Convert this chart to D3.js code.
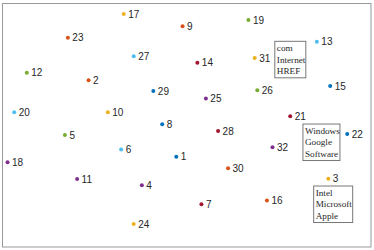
<!DOCTYPE html>
<html>
<head>
<meta charset="utf-8">
<script src="https://cdn.jsdelivr.net/npm/d3@7"></script>
<style>
  body { margin: 0; background: #fff; }
</style>
</head>
<body>
<div id="chart"></div>
<script>
// point ids and positions (data units, 0-100)
var ids = d3.range(1, 33);
var xs = [47.1, 23.4, 88.2, 37.8, 17.0, 32.2, 53.9, 43.3, 48.8, 28.6,
          20.3, 6.7, 85.1, 52.8, 88.7, 71.6, 32.9, 1.5, 66.6, 3.3,
          77.9, 93.3, 17.8, 35.6, 55.1, 69.0, 35.6, 58.4, 40.9, 61.1,
          68.3, 73.1];
var ys = [37.0, 68.3, 28.0, 25.3, 45.9, 40.0, 17.5, 50.3, 90.5, 55.2,
          27.9, 71.4, 84.1, 75.5, 66.0, 19.1, 95.5, 34.7, 93.0, 55.2,
          53.6, 46.3, 85.8, 9.4, 60.9, 64.2, 78.2, 47.5, 63.9, 32.3,
          77.5, 40.9];

// word boxes: top-left corner + words
var boxX = [73.6, 81.2, 84.1];
var boxY = [84.5, 50.6, 25.2];
var boxWords = [["com", "Internet", "HREF"],
                ["Windows", "Google", "Software"],
                ["Intel", "Microsoft", "Apple"]];

var colors = ["#0072BD", "#D95319", "#EDB120", "#7E2F8E", "#77AC30", "#4DBEEE", "#A2142F"];

var W = 374, H = 250;
var margin = {top: 3, right: 2, bottom: 3, left: 2};

var svg = d3.select("#chart")
  .append("svg")
    .attr("width", W)
    .attr("height", H);

var x = d3.scaleLinear()
  .domain([0, 100])
  .range([margin.left, W - margin.right]);
var y = d3.scaleLinear()
  .domain([0, 100])
  .range([H - margin.bottom, margin.top]);

// axes box
svg.append("rect")
  .attr("x", x(0) + 0.5)
  .attr("y", y(100) + 0.5)
  .attr("width", x(100) - x(0) - 1.5)
  .attr("height", y(0) - y(100) - 0.5)
  .attr("fill", "none")
  .attr("stroke", "#999")
  .attr("stroke-width", 1);

var pts = ids.map(function(d, i) { return {id: d, x: xs[i], y: ys[i]}; });

var g = svg.append("g");
g.selectAll("circle")
  .data(pts)
  .enter().append("circle")
    .attr("cx", function(d) { return x(d.x); })
    .attr("cy", function(d) { return y(d.y); })
    .attr("r", 2)
    .attr("fill", function(d) { return colors[(d.id - 1) % 7]; });

g.selectAll("text")
  .data(pts)
  .enter().append("text")
    .attr("x", function(d) { return x(d.x) + 4.5; })
    .attr("y", function(d) { return y(d.y) + 3.6; })
    .attr("font-family", "Liberation Sans, Arial, sans-serif")
    .attr("font-size", 10)
    .attr("fill", "#262626")
    .text(function(d) { return d.id; });

// word boxes
boxWords.forEach(function(words, i) {
  var bg = svg.append("g")
    .attr("transform", "translate(" + x(boxX[i]) + "," + y(boxY[i]) + ")");
  var rect = bg.append("rect")
    .attr("fill", "#fff")
    .attr("stroke", "#777")
    .attr("stroke-width", 1);
  var t = bg.selectAll("text")
    .data(words)
    .enter().append("text")
      .attr("x", 2.5)
      .attr("y", function(d, j) { return 10 + j * 11.7; })
      .attr("font-family", "Liberation Serif, Times New Roman, serif")
      .attr("font-size", 9.2)
      .attr("fill", "#262626")
      .text(function(d) { return d; });
  var maxW = d3.max(t.nodes(), function(n) { return n.getComputedTextLength(); });
  rect.attr("x", 0.5).attr("y", 0.5)
    .attr("width", Math.round(maxW + 2.5))
    .attr("height", 36.5);
});
</script>
</body>
</html>
